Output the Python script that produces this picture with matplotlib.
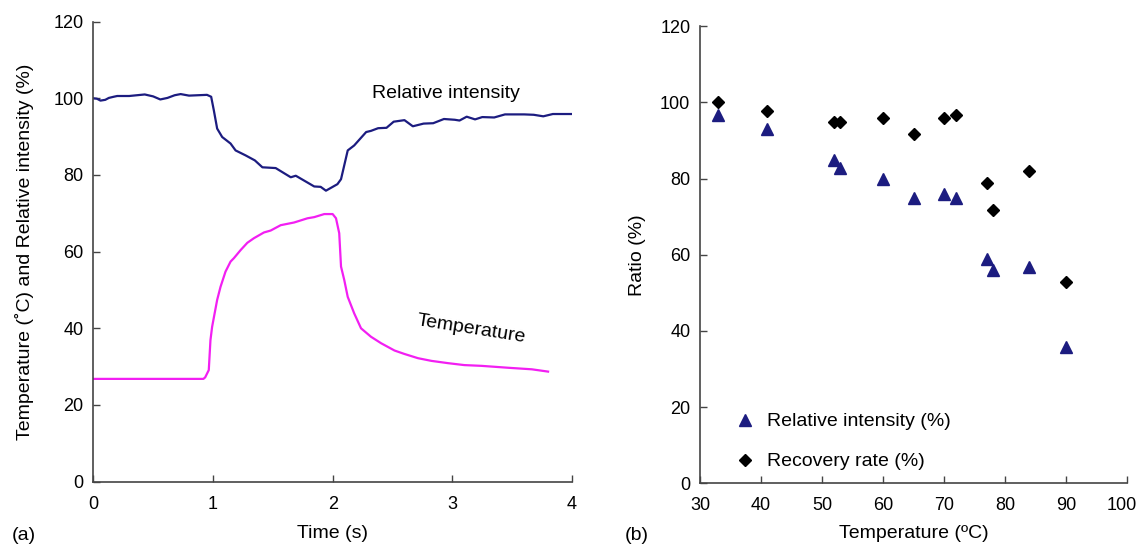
import matplotlib.pyplot as plt
from matplotlib.transforms import ScaledTranslation

plt.rcParams["font.family"] = ["Liberation Sans", "DejaVu Sans"]
plt.rcParams["font.size"] = 13

# (a) time traces
TIME_RI = [0.0, 0.03, 0.06, 0.1, 0.13, 0.17, 0.2, 0.3, 0.43, 0.5, 0.56, 0.62,
           0.68, 0.73, 0.8, 0.95, 0.985, 1.007, 1.035, 1.077, 1.147, 1.189,
           1.273, 1.35, 1.413, 1.524, 1.65, 1.692, 1.846, 1.9, 1.944, 2.04,
           2.07, 2.126, 2.18, 2.28, 2.32, 2.38, 2.45, 2.51, 2.6, 2.67, 2.76,
           2.84, 2.93, 3.02, 3.06, 3.12, 3.19, 3.25, 3.35, 3.44, 3.6, 3.68,
           3.76, 3.84, 4.0]
REL_INT = [100.0, 99.9, 99.4, 99.6, 100.1, 100.4, 100.6, 100.6, 101.0, 100.5,
           99.7, 100.1, 100.8, 101.1, 100.7, 100.9, 100.4, 96.9, 92.1, 89.9,
           88.2, 86.4, 85.1, 83.8, 82.0, 81.8, 79.4, 79.8, 77.0, 76.9, 75.9,
           77.6, 78.9, 86.4, 87.7, 91.2, 91.5, 92.2, 92.3, 93.9, 94.3, 92.7,
           93.4, 93.5, 94.6, 94.4, 94.2, 95.2, 94.5, 95.1, 95.0, 95.8, 95.8,
           95.7, 95.3, 95.9, 95.9]

TIME_T = [0.0, 0.92, 0.935, 0.965, 0.979, 0.993, 1.035, 1.063, 1.105, 1.147,
          1.175, 1.231, 1.287, 1.342, 1.426, 1.482, 1.566, 1.678, 1.79, 1.846,
          1.93, 2.0, 2.028, 2.055, 2.07, 2.097, 2.126, 2.18, 2.237, 2.32,
          2.405, 2.517, 2.6, 2.713, 2.825, 2.965, 3.1, 3.244, 3.468, 3.664,
          3.8]
TEMP = [26.8, 26.8, 27.2, 29.1, 36.9, 40.4, 47.4, 50.8, 54.8, 57.4, 58.3,
        60.4, 62.3, 63.5, 65.0, 65.5, 66.9, 67.6, 68.7, 69.0, 69.8, 69.8,
        68.7, 64.8, 56.1, 52.6, 48.2, 43.9, 40.0, 37.8, 36.1, 34.2, 33.3,
        32.2, 31.5, 30.9, 30.4, 30.2, 29.7, 29.3, 28.7]

# (b) scatter
TEMP_B = [33, 41, 52, 53, 60, 65, 70, 72, 77, 78, 84, 90]
RI_B = [96.7, 93, 84.9, 82.7, 80, 74.8, 75.9, 74.8, 58.8, 56, 56.9, 35.8]
RECOV_B = [100, 97.8, 95, 95, 95.9, 91.8, 95.9, 96.7, 78.8, 71.8, 82, 52.9]

NAVY = "#1c1c80"
MAGENTA = "#f21ff2"

fig = plt.figure(figsize=(11.39, 5.45), dpi=100)
ax1 = fig.add_axes([0.0819, 0.1163, 0.4203, 0.844])
ax2 = fig.add_axes([0.6146, 0.1132, 0.3749, 0.8385])

for ax in (ax1, ax2):
    ax.spines["top"].set_visible(False)
    ax.spines["right"].set_visible(False)
    for s in ("left", "bottom"):
        ax.spines[s].set_color("#444444")
        ax.spines[s].set_linewidth(1.2)
    ax.tick_params(direction="in", length=5, width=1.0, color="#444444",
                   labelsize=13, pad=7)

ax1.tick_params(axis="x", pad=10)
ax2.tick_params(axis="x", pad=9.5)

ax1.plot(TIME_RI, REL_INT, color=NAVY, lw=1.6)
ax1.plot(TIME_T, TEMP, color=MAGENTA, lw=1.6)
ax1.set_xlim(0, 4)
ax1.set_ylim(0, 120)
ax1.set_xticks(range(0, 5))
ax1.set_yticks(range(0, 121, 20))
ax1.set_xlabel("Time (s)", fontsize=14, labelpad=9)
ax1.set_ylabel("Temperature (˚C) and Relative intensity (%)", fontsize=14,
               labelpad=14)
ax1.text(2.95, 101.3, "Relative intensity", fontsize=14, ha="center",
         va="center")
ax1.text(3.16, 39.8, "Temperature", fontsize=14, ha="center", va="center",
         rotation=-9)

ax2.plot(TEMP_B, RI_B, ls="none", marker="^", ms=9, color=NAVY,
         label="Relative intensity (%)")
ax2.plot(TEMP_B, RECOV_B, ls="none", marker="D", ms=6, color="black",
         label="Recovery rate (%)")
ax2.set_xlim(30, 100)
ax2.set_ylim(0, 120)
ax2.set_xticks(range(30, 101, 10))
ax2.set_yticks(range(0, 121, 20))
ax2.set_xlabel("Temperature (ºC)", fontsize=14, labelpad=8)
ax2.set_ylabel("Ratio (%)", fontsize=14, labelpad=10)
ax2.legend(loc="lower left", bbox_to_anchor=(0.038, -0.01), frameon=False,
           fontsize=14, handletextpad=0.5, labelspacing=1.15,
           handlelength=1.2)

# the last tick label sits a bit left of its tick, as in the original
last = ax2.get_xticklabels()[-1]
last.set_transform(last.get_transform()
                   + ScaledTranslation(-5 / 100, 0, fig.dpi_scale_trans))

fig.text(24 / 1139, 1 - 535 / 545, "(a)", fontsize=14, ha="center",
         va="center")
fig.text(637 / 1139, 1 - 535 / 545, "(b)", fontsize=14, ha="center",
         va="center")

fig.savefig("out.png", dpi=100)
